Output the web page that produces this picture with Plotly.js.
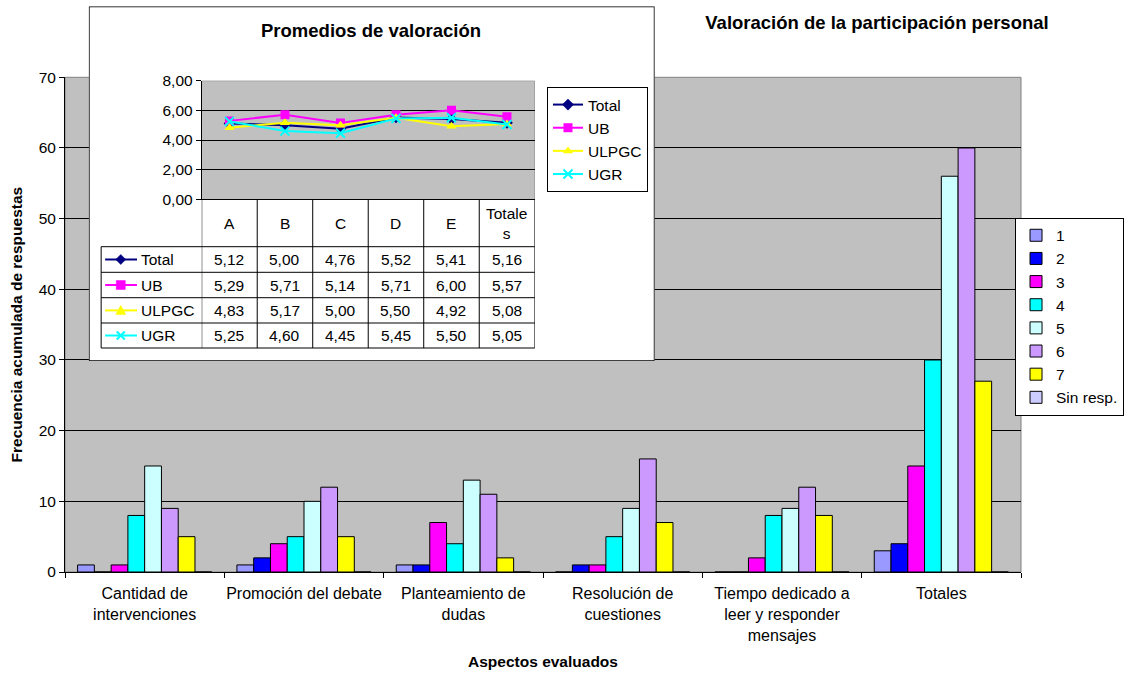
<!DOCTYPE html>
<html><head><meta charset="utf-8">
<script src="https://cdn.plot.ly/plotly-3.0.1.min.js"></script>
<style>html,body{margin:0;padding:0;background:#fff}</style>
</head><body><div id="chart" style="width:1129px;height:675px"></div>
<script>
// ---- Main chart data ----
const categories = ['Cantidad de<br>intervenciones', 'Promoción del debate', 'Planteamiento de<br>dudas', 'Resolución de<br>cuestiones', 'Tiempo dedicado a<br>leer y responder<br>mensajes', 'Totales'];
const seriesNames = ['1', '2', '3', '4', '5', '6', '7', 'Sin resp.'];
const s1 = [1, 1, 1, 0, 0, 3];
const s2 = [0, 2, 1, 1, 0, 4];
const s3 = [1, 4, 7, 1, 2, 15];
const s4 = [8, 5, 4, 5, 8, 30];
const s5 = [15, 10, 13, 9, 9, 56];
const s6 = [9, 12, 11, 16, 12, 60];
const s7 = [5, 5, 2, 7, 8, 27];
const sinResp = [0, 0, 0, 0, 0, 0];
const barColors = ['#9999FF', '#0000FF', '#FF00FF', '#00FFFF', '#CCFFFF', '#CC99FF', '#FFFF00', '#CCCCFF'];

// ---- Inset chart data ----
const avgLabels = ['A', 'B', 'C', 'D', 'E', 'Totale<br>s'];
const avgNames = ['Total', 'UB', 'ULPGC', 'UGR'];
const avgTotal = [5.12, 5.00, 4.76, 5.52, 5.41, 5.16];
const avgUB = [5.29, 5.71, 5.14, 5.71, 6.00, 5.57];
const avgULPGC = [4.83, 5.17, 5.00, 5.50, 4.92, 5.08];
const avgUGR = [5.25, 4.60, 4.45, 5.45, 5.50, 5.05];
const avgColors = ['#000080', '#FF00FF', '#FFFF00', '#00FFFF'];
const avgSymbols = ['diamond', 'square', 'triangle-up', 'x-thin-open'];

const FONT = 'Liberation Sans, Arial, sans-serif';
const W = 1129, H = 675, ML = 65, MR = 104, MT = 5, MB = 103;
const PW = W - ML - MR, PH = H - MT - MB;
const X = px => (px - ML) / PW;
const Y = py => (H - MB - py) / PH;

const barSeries = [s1, s2, s3, s4, s5, s6, s7, sinResp];
const traces = [];
barSeries.forEach((vals, i) => {
  traces.push({
    type: 'bar', x: categories, y: vals, name: seriesNames[i],
    xaxis: 'x', yaxis: 'y',
    marker: {color: barColors[i], line: {color: '#000', width: 1}}
  });
});
traces.push({type: 'scatter', x: [], y: [], xaxis: 'x2', yaxis: 'y2', showlegend: false, hoverinfo: 'skip'});
const avgSeries = [avgTotal, avgUB, avgULPGC, avgUGR];
avgSeries.forEach((vals, i) => {
  const isX = avgSymbols[i].indexOf('x') === 0;
  traces.push({
    type: 'scatter', mode: 'lines+markers', x: avgLabels, y: vals, name: avgNames[i],
    xaxis: 'x3', yaxis: 'y3', legend: 'legend2',
    line: {color: avgColors[i], width: 2},
    marker: {symbol: avgSymbols[i], size: 9, color: avgColors[i],
             line: {color: avgColors[i], width: isX ? 2 : 0}}
  });
});

const x3dom = [X(202.3), X(536.7)];
const shapes = [];
// main plot frame
shapes.push({type: 'rect', xref: 'paper', yref: 'paper', x0: 0, x1: 1, y0: 0, y1: Y(77.3),
  line: {color: '#808080', width: 1}, layer: 'below'});
// inset white box
shapes.push({type: 'rect', xref: 'x2', yref: 'y2', x0: 0, x1: 1, y0: 0, y1: 1,
  fillcolor: '#FFFFFF', line: {color: '#000', width: 1.5}, layer: 'below'});
// inset plot frame top/right
shapes.push({type: 'path', xref: 'x3', yref: 'y3', path: 'M-0.5,8L5.5,8L5.5,0',
  line: {color: '#808080', width: 1}, layer: 'below'});
// table vertical lines
for (let k = 0; k <= avgLabels.length; k++) {
  shapes.push({type: 'line', xref: 'x3', yref: 'paper', x0: k - 0.5, x1: k - 0.5, y0: Y(348), y1: Y(199.3),
    line: {color: '#000', width: 1}, layer: 'above'});
}
shapes.push({type: 'line', xref: 'paper', yref: 'paper', x0: X(101.3), x1: X(101.3), y0: Y(348), y1: Y(246.7),
  line: {color: '#000', width: 1}, layer: 'above'});
const rowLines = [246.7, 272.3, 297.7, 323, 348];
rowLines.forEach(py => {
  shapes.push({type: 'line', xref: 'paper', yref: 'paper', x0: X(101.3), x1: x3dom[1], y0: Y(py), y1: Y(py),
    line: {color: '#000', width: 1}, layer: 'above'});
});
const rowCenters = [259.5, 285, 310.4, 335.5];
const keyPaths = [
  'M0,5L5,0L0,-5L-5,0Z',
  'M-4.5,-4.5H4.5V4.5H-4.5Z',
  'M-5,-4L5,-4L0,5Z',
  'M-4,-4L4,4M-4,4L4,-4'
];
rowCenters.forEach((py, i) => {
  shapes.push({type: 'line', xref: 'paper', yref: 'paper', x0: X(105.3), x1: X(137.3), y0: Y(py), y1: Y(py),
    line: {color: avgColors[i], width: 2}, layer: 'above'});
  const isX = i === 3;
  shapes.push({type: 'path', xref: 'paper', yref: 'paper', xsizemode: 'pixel', ysizemode: 'pixel',
    xanchor: X(121), yanchor: Y(py), path: keyPaths[i],
    fillcolor: isX ? 'rgba(0,0,0,0)' : avgColors[i],
    line: {color: avgColors[i], width: isX ? 2 : 0.5}, layer: 'above'});
});

const annotations = [];
annotations.push({text: '<b>Promedios de valoración</b>', xref: 'paper', yref: 'paper', x: X(372), y: Y(30),
  showarrow: false, xanchor: 'center', yanchor: 'middle', font: {size: 18.5}});
avgLabels.forEach((lab, k) => {
  annotations.push({text: lab, xref: 'x3', yref: 'paper', x: k, y: Y(223), showarrow: false,
    xanchor: 'center', yanchor: 'middle'});
});
avgSeries.forEach((vals, i) => {
  annotations.push({text: avgNames[i], xref: 'paper', yref: 'paper', x: X(139.5), y: Y(rowCenters[i]),
    showarrow: false, xanchor: 'left', yanchor: 'middle'});
  vals.forEach((v, k) => {
    annotations.push({text: v.toFixed(2).replace('.', ','), xref: 'x3', yref: 'paper', x: k, y: Y(rowCenters[i]),
      showarrow: false, xanchor: 'center', yanchor: 'middle'});
  });
});

const layout = {
  width: W, height: H,
  margin: {l: ML, r: MR, t: MT, b: MB, pad: 0},
  paper_bgcolor: '#FFFFFF', plot_bgcolor: '#C0C0C0',
  font: {family: FONT, size: 15.5, color: '#000'},
  separators: ',.',
  barmode: 'group', bargap: 0.158, bargroupgap: 0,
  showlegend: true,
  title: {text: '<b>Valoración de la participación personal</b>', x: 877 / W, xanchor: 'center',
    y: 1 - 23 / H, yanchor: 'middle', font: {size: 18.5}},
  xaxis: {domain: [0, 1], anchor: 'y', type: 'category', tickson: 'boundaries', tickangle: 0,
    ticks: 'outside', ticklen: 5, tickcolor: '#000', showline: true, linecolor: '#000', linewidth: 1,
    ticklabelstandoff: 7, tickfont: {size: 16},
    showgrid: false, fixedrange: true,
    title: {text: '<b>Aspectos evaluados</b>', standoff: 13, font: {size: 15.5}}},
  yaxis: {domain: [0, Y(77.3)], anchor: 'x', range: [0, 70], dtick: 10, tick0: 0,
    ticks: 'outside', ticklen: 5, tickcolor: '#000', showline: true, linecolor: '#000',
    showgrid: true, gridcolor: '#000', gridwidth: 1, zeroline: false, fixedrange: true,
    title: {text: '<b>Frecuencia acumulada de respuestas</b>', standoff: 12, font: {size: 15.5}}},
  xaxis2: {domain: [X(89), X(657)], anchor: 'y2', range: [0, 1], visible: false, fixedrange: true},
  yaxis2: {domain: [Y(361), Y(6.5)], anchor: 'x2', range: [0, 1], visible: false, fixedrange: true},
  xaxis3: {domain: x3dom, anchor: 'y3', type: 'category', range: [-0.5, 5.5],
    showticklabels: false, ticks: '', showline: true, linecolor: '#000', showgrid: false,
    zeroline: false, fixedrange: true},
  yaxis3: {domain: [Y(199.3), Y(80.7)], anchor: 'x3', range: [0, 8], dtick: 2, tick0: 0,
    tickformat: '.2f', ticks: 'outside', ticklen: 5, tickcolor: '#000', showline: true,
    linecolor: '#000', showgrid: true, gridcolor: '#000', zeroline: false, fixedrange: true},
  legend: {x: X(1019), xanchor: 'left', y: Y(217.7), yanchor: 'top', bgcolor: '#FFFFFF',
    bordercolor: '#000', borderwidth: 1, font: {size: 15.5}},
  legend2: {x: X(549), xanchor: 'left', y: Y(87), yanchor: 'top', bgcolor: '#FFFFFF',
    bordercolor: '#000', borderwidth: 1, font: {size: 15.5}},
  shapes: shapes,
  annotations: annotations
};

Plotly.newPlot('chart', traces, layout, {displayModeBar: false, staticPlot: true});
</script>
</body></html>
